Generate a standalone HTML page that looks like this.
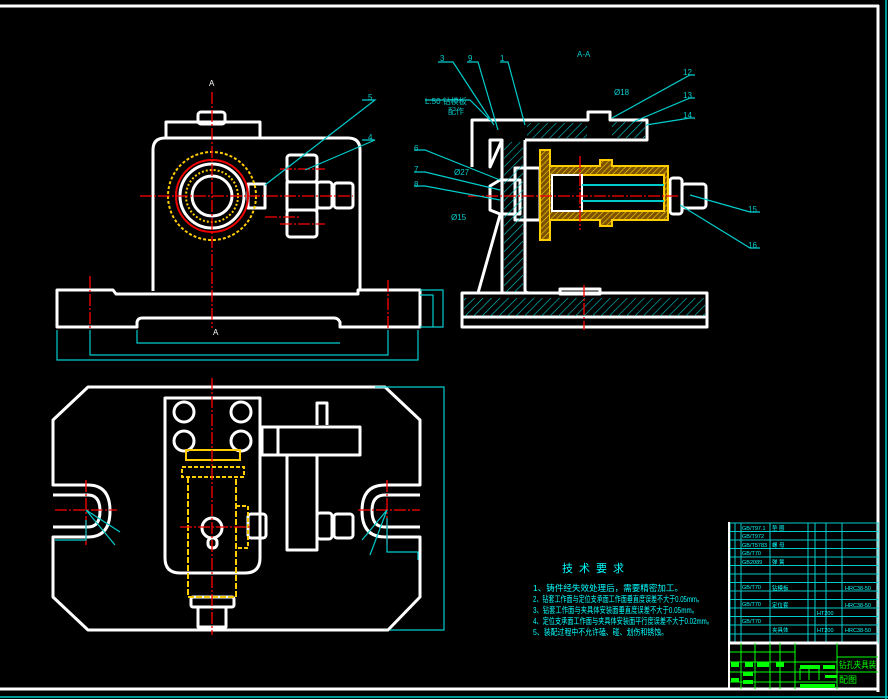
<!DOCTYPE html>
<html><head><meta charset="utf-8"><style>
html,body{margin:0;padding:0;background:#000;width:888px;height:699px;overflow:hidden}
svg{display:block}
text{font-family:"Liberation Sans","Noto Sans CJK SC",sans-serif}
</style></head><body>
<svg width="888" height="699" viewBox="0 0 888 699" xmlns="http://www.w3.org/2000/svg">
<defs>
<pattern id="h" width="6" height="6" patternUnits="userSpaceOnUse" patternTransform="rotate(45)">
<line x1="0" y1="0" x2="0" y2="6" stroke="#0cc" stroke-width="1.2"/></pattern>
<pattern id="hy" width="4" height="4" patternUnits="userSpaceOnUse" patternTransform="rotate(45)">
<rect width="4" height="4" fill="#7a5200"/><line x1="0" y1="0" x2="0" y2="4" stroke="#fc0" stroke-width="1.3"/></pattern>
</defs>
<rect width="888" height="699" fill="#000"/>
<line x1="0" y1="6" x2="879" y2="6" stroke="#fff" stroke-width="3"/>
<line x1="878" y1="5" x2="878" y2="692" stroke="#fff" stroke-width="3"/>
<line x1="0" y1="689" x2="879" y2="689" stroke="#fff" stroke-width="3"/>
<line x1="0" y1="697" x2="888" y2="697" stroke="#0cc" stroke-width="1.5"/>
<line x1="886" y1="0" x2="886" y2="699" stroke="#0cc" stroke-width="1.5"/>

<g fill="none" stroke="#fff" stroke-width="3" stroke-linejoin="round">
<!-- TOP-LEFT VIEW -->
<rect x="198" y="112" width="27" height="12" rx="3"/>
<path d="M166 138 V122 H260 V138"/>
<path d="M153 291 V150 Q153 138 165 138 H348 Q360 138 360 150 V291"/>
<path d="M57 327 V290 H113 L116 294 H358 V290 H420 V327 H340 V322 Q338 318 334 318 H142 Q138 318 137 322 V327 Z"/>
<circle cx="212" cy="196" r="32"/>
<circle cx="212" cy="196" r="20"/>
<rect x="287" y="155" width="30" height="27" rx="3"/>
<rect x="287" y="210" width="30" height="27" rx="3"/>
<rect x="287" y="182" width="30" height="28"/>
<rect x="248" y="184" width="17" height="24"/>
<rect x="317" y="182" width="15" height="26" rx="3"/>
<rect x="334" y="183" width="19" height="25" rx="3"/>
<!-- TOP-RIGHT VIEW -->
<rect x="462" y="293" width="245" height="34"/>
<line x1="462" y1="317" x2="707" y2="317"/>
<path d="M502 293 V140 M525 140 V290 Q525 293 530 293 M500 215 L478 293"/>
<path d="M472 167 V120 H588 V112 H610 V120 H647 V140 H525 M502 140 H490 V167 Z"/>
<rect x="560" y="289" width="40" height="5"/>
<rect x="670" y="178" width="12" height="36" rx="3"/>
<rect x="682" y="184" width="24" height="24" rx="3"/>
<path d="M500 180 L490 186 V210 L500 214 H520 V180 Z"/>
<rect x="515" y="168" width="25" height="52"/>
<!-- BOTTOM-LEFT VIEW -->
<path d="M88 387 H385 L420 420 V485 H385 Q362 485 362 511 Q362 537 385 537 H420 V597 L388 630 H88 L53 597 V537 H88 Q110 537 110 511 Q110 485 88 485 H53 V420 Z"/>
<path d="M53 495 H88 Q100 495 100 511 Q100 527 88 527 H53"/>
<path d="M420 495 H385 Q372 495 372 511 Q372 527 385 527 H420"/>
<path d="M165 398 H260 V558 Q260 573 245 573 H180 Q165 573 165 558 Z"/>
<circle cx="184" cy="412" r="10"/><circle cx="241" cy="412" r="10"/>
<circle cx="184" cy="441" r="10"/><circle cx="241" cy="441" r="10"/>
<path d="M262 427 H360 V455 H262 Z M278 427 V455"/>
<path d="M317 425 V403 H327 V425"/>
<rect x="287" y="455" width="30" height="95"/>
<rect x="248" y="514" width="18" height="24" rx="3"/>
<rect x="317" y="513" width="15" height="26" rx="3"/>
<rect x="334" y="514" width="19" height="24" rx="3"/>
<rect x="191" y="597" width="43" height="10" rx="2"/>
<rect x="198" y="607" width="28" height="20"/>
<circle cx="212" cy="528" r="10"/>
<rect x="208" y="538" width="9" height="10" rx="4"/>
</g>
<rect x="464" y="298" width="241" height="18" fill="url(#h)"/>
<rect x="504" y="142" width="19" height="150" fill="url(#h)"/>
<rect x="527" y="123" width="60" height="15" fill="url(#h)"/>
<rect x="612" y="122" width="33" height="16" fill="url(#h)"/>
<g fill="none" stroke="#fc0" stroke-width="2">
<rect x="540" y="150" width="10" height="90" fill="url(#hy)"/>
<path d="M550 166 H600 V160 H612 V166 H668 V220 H612 V226 H600 V220 H550" fill="url(#hy)"/>
<rect x="552" y="175" width="112" height="36" fill="#000"/>
<rect x="552" y="175" width="30" height="36" stroke="#fff"/>
<line x1="582" y1="185" x2="664" y2="185" stroke="#0cc"/>
<line x1="582" y1="201" x2="664" y2="201" stroke="#0cc"/>
<circle cx="212" cy="196" r="44" stroke-dasharray="3,2"/>
<circle cx="212" cy="196" r="26" stroke-dasharray="2,2"/>
<rect x="186" y="450" width="54" height="10"/>
<rect x="182" y="467" width="62" height="10" stroke-dasharray="4,2"/>
<path d="M188 477 V597 H236 V477" stroke-dasharray="6,2"/>
<path d="M236 506 H248 V548 H236" stroke-dasharray="4,2"/>
</g>
<circle cx="212" cy="196" r="36" fill="none" stroke="#e00" stroke-width="2"/>
<g stroke="#f00" stroke-width="1.3" stroke-dasharray="12,2,2,2">
<line x1="212" y1="92" x2="212" y2="328"/>
<line x1="140" y1="196" x2="353" y2="196"/>
<line x1="90" y1="276" x2="90" y2="330"/>
<line x1="388" y1="280" x2="388" y2="330"/>
<line x1="468" y1="196" x2="680" y2="196"/>
<line x1="580" y1="156" x2="580" y2="230"/>
<line x1="584" y1="285" x2="584" y2="330"/>
<line x1="212" y1="378" x2="212" y2="635"/>
<line x1="55" y1="510" x2="117" y2="510"/>
<line x1="86" y1="480" x2="86" y2="545"/>
<line x1="358" y1="510" x2="420" y2="510"/>
<line x1="387" y1="480" x2="387" y2="545"/>
<line x1="180" y1="527" x2="250" y2="527"/>
<line x1="265" y1="217" x2="300" y2="217"/>
<line x1="280" y1="169" x2="325" y2="169"/>
<line x1="280" y1="224" x2="325" y2="224"/>
</g>
<g stroke="#0cc" stroke-width="1.2" fill="none">
<path d="M57 330 V360 H418 V330 M90 330 V355 H388 V330 M137 330 V343 H340"/>
<path d="M420 290 H443 V327 H420 M420 295 H433 V327"/>
<path d="M375 387 H444 V630 H390"/>
<path d="M362 100 H375 L265 185 M362 140 H375 L305 170"/>
<path d="M438 62 H453 L494 125 M467 62 H478 L498 130 M500 62 H508 L525 125"/>
<path d="M695 75 H690 L612 118 M695 98 H690 L633 122 M695 118 H690 L646 125"/>
<path d="M414 150 H425 L500 180 M414 172 H425 L500 190 M414 186 H425 L500 200"/>
<path d="M760 212 H750 L690 195 M760 248 H750 L680 205"/>
<path d="M425 100 H470 L490 120"/>
<path d="M55 540 H86 V520 M387 518 V552 H418 V560"/>
<path d="M86 510 L120 532 M86 510 L115 545 M387 510 L362 540 M387 510 L370 555"/>
</g>
<g fill="#0cc" font-size="8">
<text x="368" y="100">5</text><text x="368" y="140">4</text>
<text x="440" y="61">3</text><text x="468" y="61">9</text><text x="500" y="61">1</text>
<text x="577" y="57">A-A</text>
<text x="683" y="75">12</text><text x="683" y="98">13</text><text x="683" y="118">14</text>
<text x="414" y="151">6</text><text x="414" y="172">7</text><text x="414" y="187">8</text>
<text x="748" y="212">15</text><text x="748" y="248">16</text>
<text x="425" y="104">L:50 钻模板</text><text x="448" y="114">配作</text>
<text x="614" y="95">Ø18</text><text x="454" y="175">Ø27</text><text x="451" y="220">Ø15</text>
<text x="209" y="86" fill="#fff">A</text><text x="213" y="335" fill="#fff">A</text>
</g>
<g fill="#0ff" font-size="8.5">
<text x="562" y="572" font-size="11" letter-spacing="6">技术要求</text>
<text x="533" y="591" textLength="150" lengthAdjust="spacingAndGlyphs">1、铸件经失效处理后，需要精密加工。</text>
<text x="533" y="602" textLength="170" lengthAdjust="spacingAndGlyphs">2、钻套工作面与定位支承面工作面垂直度误差不大于0.05mm。</text>
<text x="533" y="613" textLength="165" lengthAdjust="spacingAndGlyphs">3、钻套工作面与夹具体安装面垂直度误差不大于0.05mm。</text>
<text x="533" y="624" textLength="180" lengthAdjust="spacingAndGlyphs">4、定位支承面工作面与夹具体安装面平行度误差不大于0.02mm。</text>
<text x="533" y="635" textLength="135" lengthAdjust="spacingAndGlyphs">5、装配过程中不允许磕、碰、划伤和锈蚀。</text>
</g>
<g stroke="#0cc" stroke-width="1" fill="none">
<rect x="730" y="523" width="148" height="120"/>
<path d="M735 523 V643 M741 523 V643 M770 523 V643 M808 523 V643 M815 523 V643 M826 523 V643 M842 523 V643"/>
<path d="M730 531.5 H878 M730 540 H878 M730 548.5 H878 M730 557 H878 M730 565.5 H878 M730 574 H878 M730 582.5 H878 M730 591 H878 M730 599.5 H878 M730 608 H878 M730 616.5 H878 M730 625 H878 M730 634 H878"/>
</g>
<g fill="#0ff" font-size="5.5">
<text x="742" y="530">GB/T97.1</text><text x="742" y="538">GB/T972</text><text x="742" y="547">GB/T5783</text>
<text x="742" y="555">GB/T70</text><text x="742" y="564">GB2089</text><text x="742" y="589">GB/T70</text>
<text x="742" y="606">GB/T70</text><text x="742" y="623">GB/T70</text>
<text x="772" y="530">垫 圈</text><text x="772" y="547">螺 母</text><text x="772" y="564">弹 簧</text>
<text x="772" y="590">钻模板</text><text x="772" y="607">定位套</text><text x="772" y="632">夹具体</text>
<text x="845" y="590">HRC38-50</text><text x="845" y="607">HRC38-50</text><text x="845" y="632">HRC38-50</text>
<text x="817" y="632">HT200</text><text x="817" y="615">HT200</text>
</g>
<line x1="728" y1="643" x2="878" y2="643" stroke="#fff" stroke-width="3"/>
<line x1="729" y1="522" x2="729" y2="690" stroke="#fff" stroke-width="2"/>
<g stroke="#0f0" stroke-width="1" fill="none">
<path d="M730 652 H795 M730 662 H795 M730 672 H878 M730 682 H837 M795 662 H837 M837 657 H878"/>
<path d="M741 643 V689 M755 643 V689 M770 643 V689 M780 643 V689 M795 643 V689 M837 643 V689 M800 668 V680 M809 668 V680 M819 668 V680"/>
</g>
<g fill="#0f0">
<rect x="731" y="662" width="8" height="5"/><rect x="745" y="662" width="8" height="5"/><rect x="757" y="662" width="12" height="5"/>
<rect x="776" y="662" width="8" height="5"/><rect x="800" y="665" width="20" height="4"/><rect x="823" y="665" width="12" height="4"/>
<rect x="743" y="672" width="10" height="4"/><rect x="731" y="678" width="8" height="4"/><rect x="743" y="680" width="10" height="4"/>
<rect x="800" y="684" width="35" height="4"/><rect x="825" y="675" width="12" height="3"/>
</g>
<g fill="#0f0" font-size="9"><text x="839" y="668" textLength="37" lengthAdjust="spacingAndGlyphs">钻孔夹具装</text><text x="839" y="683">配图</text></g>
</svg>
</body></html>
